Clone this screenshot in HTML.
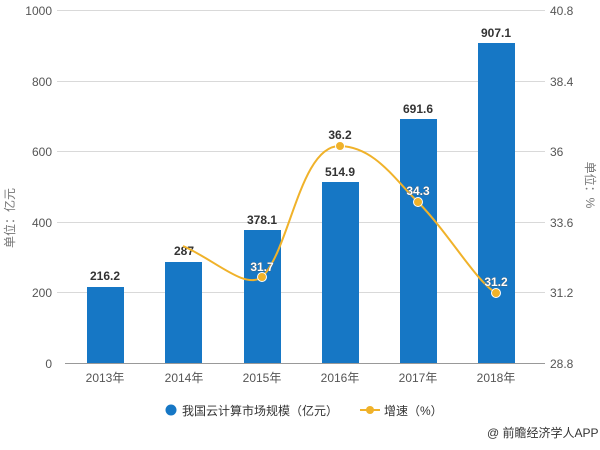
<!DOCTYPE html>
<html><head><meta charset="utf-8"><style>
body{margin:0;background:#fff;width:600px;height:445px;overflow:hidden}
text{font-family:"Liberation Sans","Noto Sans CJK SC",sans-serif}
</style></head><body>
<svg width="600" height="445" xmlns="http://www.w3.org/2000/svg">
<g stroke="#d9d9d9" stroke-width="1">
<line x1="57" y1="10.5" x2="545" y2="10.5"/>
<line x1="57" y1="81.5" x2="545" y2="81.5"/>
<line x1="57" y1="151.5" x2="545" y2="151.5"/>
<line x1="57" y1="222.5" x2="545" y2="222.5"/>
<line x1="57" y1="292.5" x2="545" y2="292.5"/>
</g>
<line x1="65" y1="363.5" x2="545" y2="363.5" stroke="#999"/>
<g fill="#555" font-size="12" text-anchor="end">
<text x="52" y="15">1000</text><text x="52" y="86">800</text><text x="52" y="156">600</text>
<text x="52" y="227">400</text><text x="52" y="297">200</text><text x="52" y="368">0</text>
</g>
<g fill="#555" font-size="12">
<text x="550" y="15">40.8</text><text x="550" y="86">38.4</text><text x="550" y="156">36</text>
<text x="550" y="227">33.6</text><text x="550" y="297">31.2</text><text x="550" y="368">28.8</text>
</g>
<text transform="translate(14,218) rotate(-90)" fill="#777" font-size="12" text-anchor="middle">单位：亿元</text>
<text transform="translate(586,185) rotate(90)" fill="#777" font-size="12" text-anchor="middle">单位：%</text>
<g fill="#1677c5">
<rect x="87" y="287" width="37" height="76"/>
<rect x="165" y="262" width="37" height="101"/>
<rect x="244" y="230" width="37" height="133"/>
<rect x="322" y="182" width="37" height="181"/>
<rect x="400" y="119" width="37" height="244"/>
<rect x="478" y="43" width="37" height="320"/>
</g>
<g fill="#333" font-size="12" font-weight="bold" text-anchor="middle">
<text x="105" y="280">216.2</text><text x="184" y="255">287</text><text x="262" y="224">378.1</text>
<text x="340" y="176">514.9</text><text x="418" y="113">691.6</text><text x="496" y="37">907.1</text>
<text x="340" y="139">36.2</text>
</g>
<path d="M183,246 C215,260 245,290 262,277 C290,250 300,145 340,146 C375,147 395,180 418,202 C450,235 475,280 496,293" fill="none" stroke="#f0b22a" stroke-width="2"/>
<g fill="#f0b22a" stroke="#fff" stroke-width="1">
<circle cx="262" cy="277" r="4.5"/><circle cx="340" cy="146" r="4.5"/><circle cx="418" cy="202" r="4.5"/><circle cx="496" cy="293" r="4.5"/>
</g>
<g fill="#fff" font-size="12" font-weight="bold" text-anchor="middle" stroke="#555" stroke-width="0.6" paint-order="stroke">
<text x="262" y="271">31.7</text><text x="418" y="195">34.3</text><text x="496" y="286">31.2</text>
</g>
<g fill="#555" font-size="12" text-anchor="middle">
<text x="105" y="382">2013年</text><text x="184" y="382">2014年</text><text x="262" y="382">2015年</text>
<text x="340" y="382">2016年</text><text x="418" y="382">2017年</text><text x="496" y="382">2018年</text>
</g>
<circle cx="171" cy="410" r="5.5" fill="#1677c5"/>
<text x="182" y="415" font-size="12" fill="#333">我国云计算市场规模（亿元）</text>
<line x1="360" y1="410" x2="380" y2="410" stroke="#f0b22a" stroke-width="2"/>
<circle cx="370" cy="410" r="4" fill="#f0b22a"/>
<text x="384" y="415" font-size="12" fill="#333">增速（%）</text>
<text x="487" y="437" font-size="12" fill="#333">@ 前瞻经济学人APP</text>
</svg>
</body></html>
